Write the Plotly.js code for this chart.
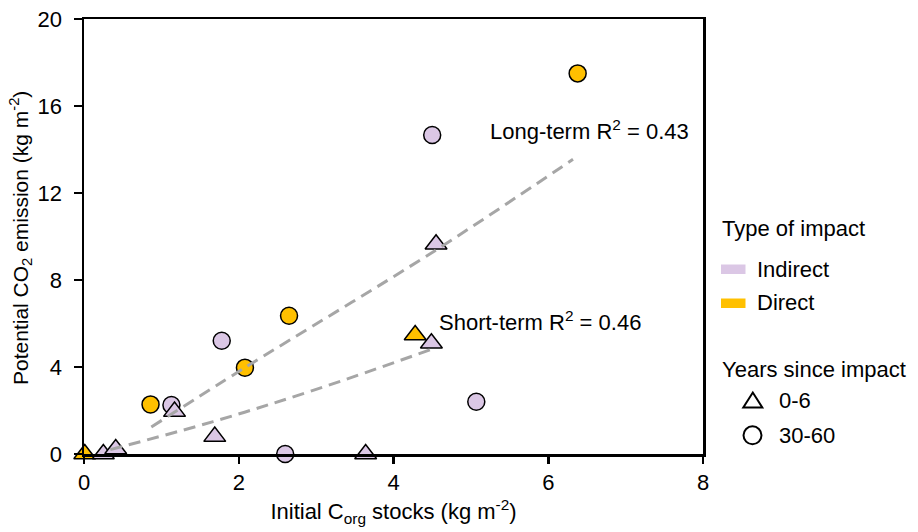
<!DOCTYPE html>
<html>
<head>
<meta charset="utf-8">
<script src="https://cdn.plot.ly/plotly-3.0.1.min.js"></script>
<style>html,body{margin:0;padding:0;background:#fff;}#chart{width:918px;height:532px;}</style>
</head>
<body>
<div id="chart"></div>
<script>
// ---- data ----
const indirectShortX = [0.25, 0.41, 1.17, 1.69, 3.64, 4.49, 4.55];
const indirectShortY = [0, 0.23, 1.95, 0.8, 0, 5.09, 9.64];
const directShortX = [0.01, 4.28];
const directShortY = [0, 5.47];
const indirectLongX = [1.13, 1.78, 2.6, 4.5, 5.07];
const indirectLongY = [2.25, 5.21, 0, 14.67, 2.4];
const directLongX = [0.86, 2.08, 2.65, 6.38];
const directLongY = [2.28, 3.97, 6.36, 17.5];
const longFitX = [0.87, 2.08, 4.55, 6.32];
const longFitY = [1.24, 3.97, 9.38, 13.55];
const shortFitX = [0.34, 1.67, 3.0, 4.53];
const shortFitY = [0.2, 1.49, 2.97, 4.86];
const xTicks = [0, 2, 4, 6, 8];
const yTicks = [0, 4, 8, 12, 16, 20];

const FONT = 'Liberation Sans, Arial, sans-serif';
const FS = 22;
const LAV = '#DBC7E5';
const GOLD = '#FFC000';
const mk = (sym, col, size) => ({symbol: sym, color: col, size: size, line: {color: '#000', width: 1.5}});

const traces = [
  {x: indirectLongX, y: indirectLongY, type: 'scatter', mode: 'markers', marker: mk('circle', LAV, 17), cliponaxis: false},
  {x: directLongX, y: directLongY, type: 'scatter', mode: 'markers', marker: mk('circle', GOLD, 17), cliponaxis: false},
  {x: directShortX, y: directShortY, type: 'scatter', mode: 'markers', marker: mk('triangle-up', GOLD, 19), cliponaxis: false},
  {x: indirectShortX, y: indirectShortY, type: 'scatter', mode: 'markers', marker: mk('triangle-up', LAV, 19), cliponaxis: false},
  {x: longFitX, y: longFitY, type: 'scatter', mode: 'lines', line: {color: '#A6A6A6', width: 3, dash: '12px,7px', shape: 'spline'}},
  {x: shortFitX, y: shortFitY, type: 'scatter', mode: 'lines', line: {color: '#A6A6A6', width: 3, dash: '12px,7px', shape: 'spline'}}
];

// legend helpers (pixel -> paper)
const L = 84, R = 703, T = 19, B = 454;
const px = v => (v - L) / (R - L);
const py = v => (B - v) / (B - T);
const txt = (s, x, y) => ({text: s, xref: 'paper', yref: 'paper', x: px(x), y: py(y), xanchor: 'left', yanchor: 'middle', showarrow: false, font: {family: FONT, size: FS, color: '#000'}});

const annotations = [
  {text: 'Long-term R<sup>2</sup> = 0.43', x: 5.22, y: 14.9, xref: 'x', yref: 'y', xanchor: 'left', yanchor: 'middle', showarrow: false, font: {family: FONT, size: FS, color: '#000'}},
  {text: 'Short-term R<sup>2</sup> = 0.46', x: 4.56, y: 6.1, xref: 'x', yref: 'y', xanchor: 'left', yanchor: 'middle', showarrow: false, font: {family: FONT, size: FS, color: '#000'}},
  {text: 'Potential CO<sub>2</sub> emission (kg m<sup>-2</sup>)', xref: 'paper', yref: 'paper', x: px(20), y: py(238), xanchor: 'center', yanchor: 'middle', textangle: -90, showarrow: false, font: {family: FONT, size: 21, color: '#000'}},
  txt('Type of impact', 720, 228),
  txt('Indirect', 755, 269),
  txt('Direct', 755, 302),
  txt('Years since impact', 720, 369),
  txt('0-6', 777, 400),
  txt('30-60', 777, 435)
];

const shapes = [
  {type: 'rect', xref: 'paper', yref: 'paper', x0: px(721), x1: px(745.5), y0: py(274), y1: py(264.5), fillcolor: LAV, line: {width: 0}},
  {type: 'rect', xref: 'paper', yref: 'paper', x0: px(721), x1: px(745.5), y0: py(308), y1: py(298.5), fillcolor: GOLD, line: {width: 0}},
  {type: 'path', xref: 'paper', yref: 'paper',
   path: 'M' + px(743.3) + ',' + py(407.5) + ' L' + px(762.3) + ',' + py(407.5) + ' L' + px(752.8) + ',' + py(392.5) + ' Z',
   fillcolor: '#fff', line: {color: '#000', width: 2}},
  {type: 'circle', xref: 'paper', yref: 'paper', x0: px(743.5), x1: px(761.5), y0: py(444.3), y1: py(426.3), fillcolor: '#fff', line: {color: '#000', width: 2}}
];

const layout = {
  width: 918, height: 532,
  margin: {l: L, r: 918 - R, t: T, b: 532 - B, pad: 0},
  paper_bgcolor: '#fff', plot_bgcolor: '#fff',
  showlegend: false,
  font: {family: FONT, size: FS, color: '#000'},
  xaxis: {
    range: [0, 8], tickvals: xTicks, ticktext: xTicks.map(String),
    showgrid: false, zeroline: false, showline: true, linecolor: '#000', linewidth: 2.5, mirror: true,
    ticks: 'outside', ticklen: 7, tickwidth: 2.5, tickcolor: '#000',
    tickfont: {family: FONT, size: FS, color: '#000'},
    title: {text: 'Initial C<sub>org</sub> stocks (kg m<sup>-2</sup>)', font: {family: FONT, size: FS, color: '#000'}, standoff: 10}
  },
  yaxis: {
    range: [0, 20], tickvals: yTicks, ticktext: yTicks.map(String),
    showgrid: false, zeroline: false, showline: true, linecolor: '#000', linewidth: 2.5, mirror: true,
    ticks: 'outside', ticklen: 8, tickwidth: 2.5, tickcolor: '#000', ticklabelstandoff: 7,
    tickfont: {family: FONT, size: FS, color: '#000'}
  },
  annotations: annotations,
  shapes: shapes
};

Plotly.newPlot('chart', traces, layout, {staticPlot: true, displayModeBar: false});
</script>
</body>
</html>
